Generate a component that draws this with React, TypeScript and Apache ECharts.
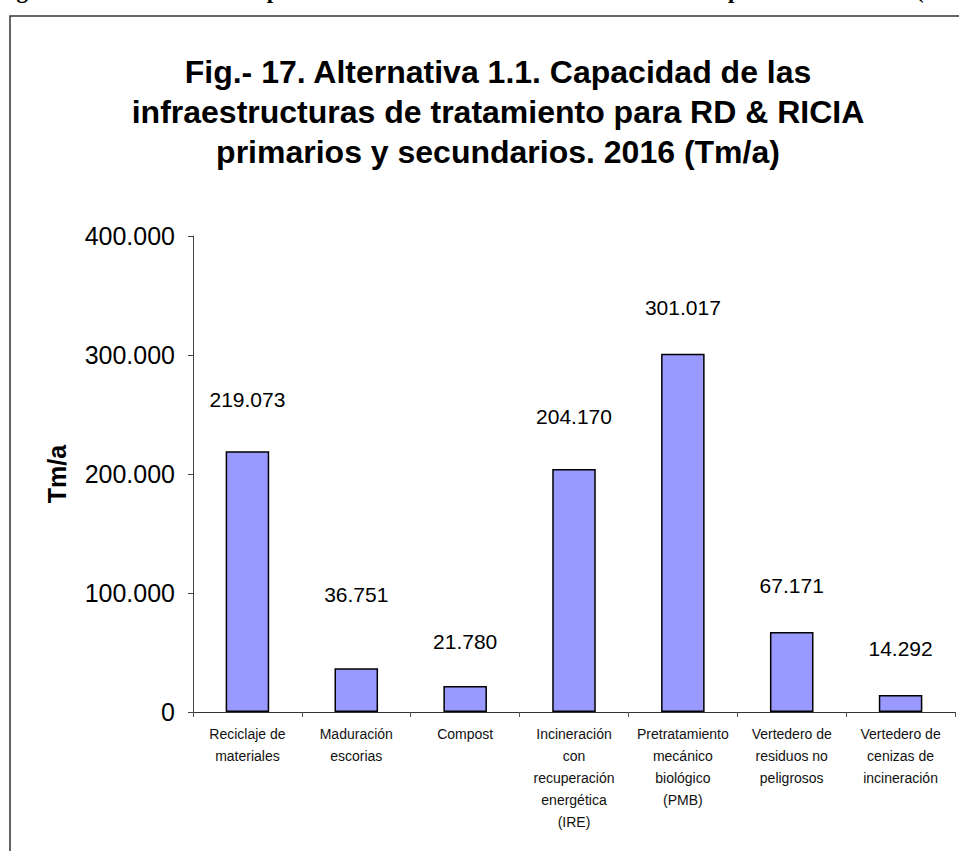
import React, { useEffect, useRef } from "react";
import * as echarts from "echarts";

const titleLines = [
  "Fig.- 17. Alternativa 1.1. Capacidad de las",
  "infraestructuras de tratamiento para RD & RICIA",
  "primarios y secundarios. 2016 (Tm/a)",
];
const captionText =
  "Fig.- 17. Alternativa 1.1. Capacidad de las infraestructuras de tratamiento para RD & RICIA (Tm/a)";
const categories = [
  "Reciclaje de\nmateriales",
  "Maduración\nescorias",
  "Compost",
  "Incineración\ncon\nrecuperación\nenergética\n(IRE)",
  "Pretratamiento\nmecánico\nbiológico\n(PMB)",
  "Vertedero de\nresiduos no\npeligrosos",
  "Vertedero de\ncenizas de\nincineración",
];
const values = [219073, 36751, 21780, 204170, 301017, 67171, 14292];
const labelDistances = [41, 63, 34, 42, 36, 36, 36];
const yAxisName = "Tm/a";
const yMin = 0;
const yMax = 400000;
const yInterval = 100000;

const fmt = (v: number) =>
  Math.round(v)
    .toString()
    .replace(/\B(?=(\d{3})+(?!\d))/g, ".");

const FONT = "Arial, 'Liberation Sans', sans-serif";

export default function App() {
  const ref = useRef<HTMLDivElement>(null);
  useEffect(() => {
    if (!ref.current) return;
    const chart = echarts.init(ref.current, null, { renderer: "svg" });
    chart.setOption({
      animation: false,
      backgroundColor: "#ffffff",
      title: {
        text: titleLines.join("\n"),
        left: 493,
        top: 47,
        textAlign: "center",
        textStyle: {
          fontFamily: FONT,
          fontSize: 32,
          fontWeight: "bold",
          lineHeight: 40,
          color: "#000",
        },
      },
      graphic: [
        {
          type: "rect",
          shape: { x: 10, y: 16, width: 1000, height: 1000 },
          style: { fill: "none", stroke: "#333", lineWidth: 1.5 },
          silent: true,
        },
        {
          type: "text",
          x: -4,
          y: -21,
          style: {
            text: captionText,
            font: "bold 23px 'Times New Roman', 'Liberation Serif', serif",
            fill: "#000",
          },
          silent: true,
        },
      ],
      grid: { left: 193, right: 4, top: 236, bottom: 139, containLabel: false },
      xAxis: {
        type: "category",
        data: categories,
        axisLine: { lineStyle: { color: "#333", width: 1 } },
        axisTick: { show: true, length: 5, lineStyle: { color: "#555" } },
        axisLabel: {
          interval: 0,
          margin: 11,
          fontFamily: FONT,
          fontSize: 14,
          lineHeight: 22,
          color: "#111",
          align: "center",
          verticalAlign: "top",
        },
      },
      yAxis: {
        type: "value",
        min: yMin,
        max: yMax,
        interval: yInterval,
        name: yAxisName,
        nameLocation: "middle",
        nameRotate: 90,
        nameGap: 124,
        nameTextStyle: {
          fontFamily: FONT,
          fontSize: 25,
          fontWeight: "bold",
          color: "#000",
        },
        axisLine: { show: true, lineStyle: { color: "#444", width: 1 } },
        axisTick: { show: true, length: 5, lineStyle: { color: "#444" } },
        splitLine: { show: false },
        axisLabel: {
          margin: 18,
          fontFamily: FONT,
          fontSize: 25,
          color: "#000",
          formatter: (v: number) => fmt(v),
        },
      },
      series: [
        {
          type: "bar",
          barWidth: "40%",
          data: values.map((v, i) => ({
            value: v,
            label: { distance: labelDistances[i] },
          })),
          itemStyle: { color: "#9999FF", borderColor: "#000", borderWidth: 1.5 },
          label: {
            show: true,
            position: "top",
            fontFamily: FONT,
            fontSize: 21,
            color: "#000",
            formatter: (p: any) => fmt(p.value),
          },
        },
      ],
    });
    return () => chart.dispose();
  }, []);
  return (
    <div
      style={{ position: "fixed", left: 0, top: 0, width: 959, height: 851, background: "#fff" }}
    >
      <div ref={ref} style={{ width: 959, height: 851 }} />
    </div>
  );
}
